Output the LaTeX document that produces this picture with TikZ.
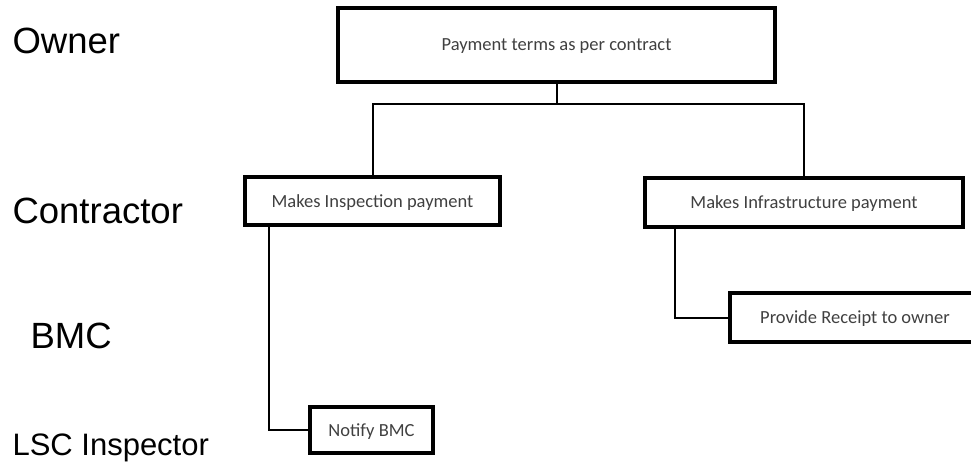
\documentclass[tikz,border=0pt]{standalone}
\usepackage{fontspec}
\setmainfont{Liberation Sans}
\newfontfamily\boxfont{Carlito}
\tikzset{
  box/.style={draw, rectangle, line width=3.2pt, inner sep=0pt, text depth=0pt,
    font=\boxfont\fontsize{18.5}{22}\selectfont, text=black!75},
  role/.style={anchor=base west, font=\fontsize{36.5}{40}\selectfont},
  link/.style={line width=2pt}
}
\begin{document}
\begin{tikzpicture}[x=1pt,y=-1pt]
    \useasboundingbox (0,0) rectangle (971,461);

    % Ruoli
    \node[role] (owner) at (9,53) {Owner};
    \node[role] (contractor) at (9,223) {Contractor};
    \node[role] (bmc) at (27,348) {BMC};
    \node[role, font=\fontsize{31}{35}\selectfont] (lsc) at (9,455) {LSC Inspector};

    % Caselle
    \node[box, minimum width=437pt, minimum height=74pt] (terms) at (556.5,45) {Payment terms as per contract};
    \node[box, minimum width=255pt, minimum height=48pt] (insp) at (372.5,201) {Makes Inspection payment};
    \node[box, minimum width=318pt, minimum height=49pt] (infra) at (804,202.5) {Makes Infrastructure payment};
    \node[box, minimum width=250pt, minimum height=49pt] (receipt) at (855,317.5) {Provide Receipt to owner};
    \node[box, minimum width=123pt, minimum height=46pt] (notify) at (371.5,430) {Notify BMC};

    % Collegamenti
    \coordinate (split) at (556.5,104);
    \draw[link] (terms.south) -- (split);
    \draw[link] (split) -| (insp.north);
    \draw[link] (split) -| (infra.north);
    \draw[link] ([xshift=26pt]insp.south west) |- (notify.west);
    \draw[link] ([xshift=32pt]infra.south west) |- (receipt.west);

\end{tikzpicture}
\end{document}
